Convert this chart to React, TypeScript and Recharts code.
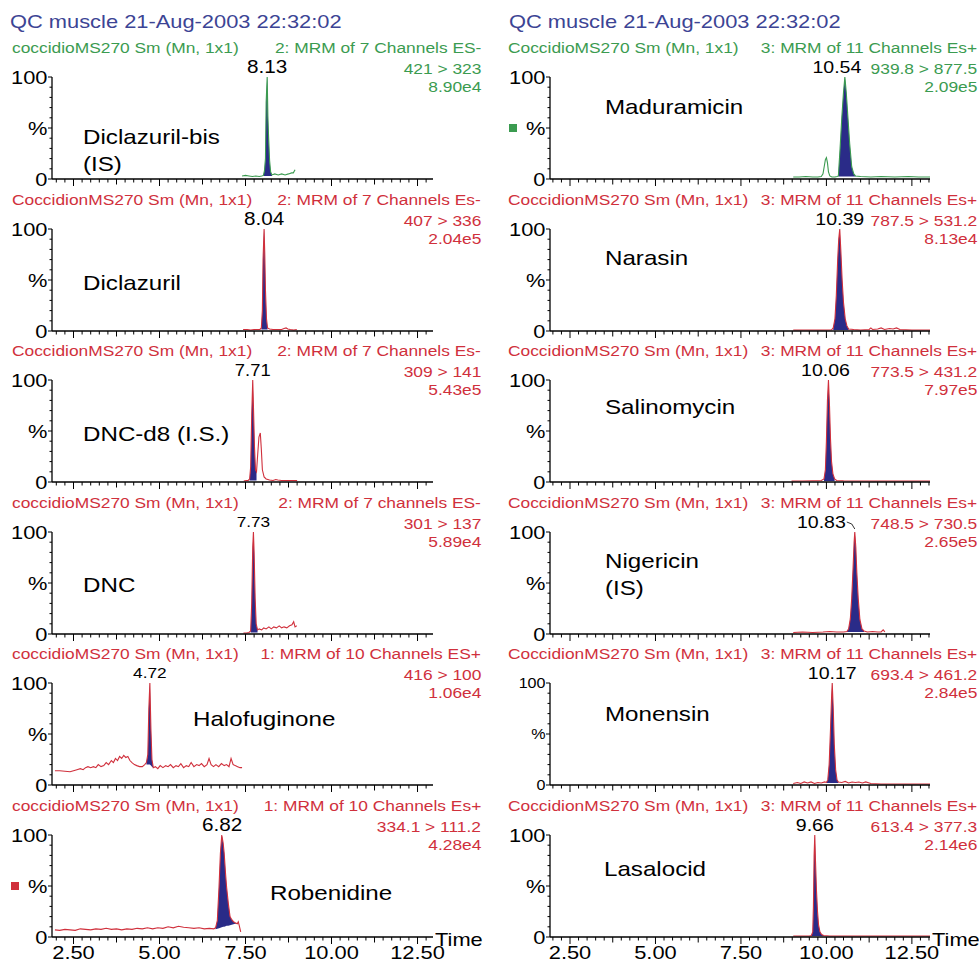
import React from "react";
import { ComposedChart, Line, Area, XAxis, YAxis, ReferenceDot } from "recharts";

const FONT = '"Liberation Sans", Arial, Helvetica, sans-serif';
const SX = 1.15; // the scan is stretched horizontally
const RED = "#d0303c";
const GREEN = "#3b9b50";
const NAVY = "#2a2b88";
const TITLE_BLUE = "#3c4494";

const runTitle = "QC muscle 21-Aug-2003 22:32:02";

const xLabelTicks = [2.5, 5, 7.5, 10, 12.5];
const xTicks = [
  2, 2.25, 2.5, 2.75, 3, 3.25, 3.5, 3.75, 4, 4.25, 4.5, 4.75, 5, 5.25, 5.5, 5.75,
  6, 6.25, 6.5, 6.75, 7, 7.25, 7.5, 7.75, 8, 8.25, 8.5, 8.75, 9, 9.25, 9.5, 9.75,
  10, 10.25, 10.5, 10.75, 11, 11.25, 11.5, 11.75, 12, 12.25, 12.5, 12.75, 13,
];
const yTicks = [0, 10, 20, 30, 40, 50, 60, 70, 80, 90, 100];

// traces: [time, %]; fills: [time, integration baseline %]
const diclazurilBisTrace = [
  [7.4, 3], [7.5, 3.5], [7.6, 3], [7.7, 2.5], [7.8, 3], [7.9, 2.5], [7.97, 3], [8.02, 3.5],
  [8.05, 8], [8.08, 20], [8.1, 75], [8.13, 100], [8.15, 62], [8.17, 42], [8.2, 18], [8.23, 7],
  [8.27, 4], [8.35, 5], [8.45, 4], [8.55, 5], [8.65, 4], [8.75, 5], [8.84, 6], [8.89, 6], [8.94, 9],
];
const diclazurilBisFill = [
  [8.02, 3], [8.05, 3], [8.08, 3], [8.1, 3], [8.13, 3], [8.15, 3], [8.17, 3], [8.2, 3], [8.23, 3], [8.27, 3],
];

const diclazurilTrace = [
  [7.43, 1.5], [7.55, 1.5], [7.65, 1], [7.75, 1.5], [7.85, 1.5], [7.92, 1.5], [7.96, 3], [7.99, 20],
  [8.01, 70], [8.04, 100], [8.06, 75], [8.08, 40], [8.11, 12], [8.14, 3], [8.2, 2], [8.3, 1.5],
  [8.45, 1.5], [8.55, 1.5], [8.62, 2.5], [8.68, 3], [8.73, 2], [8.8, 1.5], [8.9, 1], [8.99, 1.5],
];
const diclazurilFill = [
  [7.96, 1.5], [7.99, 1.5], [8.01, 1.5], [8.04, 1.5], [8.06, 1.5], [8.08, 1.5], [8.11, 1.5], [8.14, 1.5],
];

const dncD8Trace = [
  [7.45, 1], [7.52, 1.5], [7.58, 1.5], [7.62, 3], [7.65, 15], [7.68, 65], [7.71, 100], [7.73, 75],
  [7.76, 35], [7.79, 12], [7.82, 10], [7.85, 25], [7.89, 44], [7.93, 48], [7.96, 32], [7.99, 12],
  [8.04, 5], [8.1, 3], [8.2, 2], [8.3, 1.5], [8.38, 2.5], [8.44, 2], [8.55, 1.5], [8.7, 1.5],
  [8.85, 1.5], [9.0, 1.5],
];
const dncD8Fill = [
  [7.62, 1.5], [7.65, 1.5], [7.68, 1.5], [7.71, 1.5], [7.73, 1.5], [7.76, 1.5], [7.79, 1.5], [7.82, 1.5],
];

const dncTrace = [
  [7.44, 1], [7.52, 1], [7.6, 1.5], [7.65, 3], [7.68, 30], [7.71, 85], [7.73, 100], [7.75, 80],
  [7.78, 35], [7.81, 10], [7.85, 4], [7.9, 5], [7.97, 4], [8.03, 6], [8.1, 5], [8.18, 7], [8.25, 5],
  [8.32, 7], [8.4, 6], [8.48, 8], [8.55, 6], [8.62, 7], [8.7, 6], [8.78, 8], [8.85, 9], [8.9, 12],
  [8.94, 7], [8.99, 8],
];
const dncFill = [
  [7.65, 1.5], [7.68, 1.5], [7.71, 1.5], [7.73, 1.5], [7.75, 1.5], [7.78, 1.5], [7.81, 1.5], [7.85, 1.5],
];

const halofuginoneTrace = [
  [1.96, 14], [2.1, 14], [2.25, 13.5], [2.4, 13], [2.5, 14], [2.6, 15], [2.7, 16], [2.78, 15],
  [2.85, 17], [2.92, 18], [3.0, 17], [3.08, 18], [3.15, 17], [3.22, 20], [3.3, 18], [3.38, 19],
  [3.45, 22], [3.52, 20], [3.6, 24], [3.66, 22], [3.72, 26], [3.78, 24], [3.84, 28], [3.9, 26],
  [3.96, 29], [4.02, 27], [4.08, 28], [4.14, 24], [4.2, 22], [4.27, 20], [4.34, 19], [4.42, 18],
  [4.5, 18], [4.57, 20], [4.62, 22], [4.66, 30], [4.69, 75], [4.72, 100], [4.75, 55], [4.78, 25],
  [4.82, 17], [4.88, 18], [4.95, 16], [5.02, 19], [5.1, 17], [5.18, 19], [5.25, 18], [5.32, 20],
  [5.4, 17], [5.48, 19], [5.55, 18], [5.62, 21], [5.7, 17], [5.78, 19], [5.85, 18], [5.92, 22],
  [6.0, 18], [6.08, 20], [6.15, 19], [6.22, 21], [6.3, 18], [6.38, 20], [6.44, 26], [6.5, 20],
  [6.57, 18], [6.64, 20], [6.72, 18], [6.8, 21], [6.88, 19], [6.95, 20], [7.02, 18], [7.08, 26],
  [7.14, 20], [7.2, 19], [7.27, 18], [7.34, 17], [7.4, 17],
];
const halofuginoneFill = [
  [4.62, 20], [4.66, 20], [4.69, 20], [4.72, 20], [4.75, 19], [4.78, 18], [4.82, 17],
];

const robenidineTrace = [
  [1.96, 7], [2.1, 6.5], [2.25, 7.5], [2.4, 7], [2.55, 6.5], [2.7, 8], [2.85, 7.5], [3.0, 7],
  [3.15, 8], [3.3, 7.5], [3.45, 8.5], [3.6, 7.5], [3.75, 8], [3.9, 7], [4.05, 8], [4.2, 7.5],
  [4.35, 8.5], [4.5, 8], [4.65, 9], [4.8, 8], [4.95, 9], [5.1, 8.5], [5.25, 10], [5.4, 9],
  [5.55, 10.5], [5.7, 9.5], [5.85, 9], [6.0, 8.5], [6.15, 9], [6.3, 8], [6.45, 8.5], [6.58, 8],
  [6.63, 9], [6.68, 16], [6.73, 49], [6.77, 82], [6.81, 100], [6.85, 92], [6.88, 82], [6.92, 62],
  [6.95, 49], [7.0, 33], [7.05, 20], [7.1, 17], [7.15, 15], [7.2, 14], [7.26, 13], [7.29, 15],
  [7.32, 11], [7.36, 5],
];
const robenidineFill = [
  [6.63, 7.5], [6.68, 8], [6.73, 8.5], [6.77, 9], [6.81, 9.5], [6.85, 10], [6.88, 10], [6.92, 10.5],
  [6.95, 11], [7.0, 11], [7.05, 11.5], [7.1, 12], [7.15, 12.5], [7.2, 13], [7.26, 13],
];

const maduramicinTrace = [
  [9.03, 2], [9.2, 2], [9.4, 2.5], [9.6, 2], [9.75, 2], [9.85, 2.5], [9.9, 5], [9.94, 13],
  [9.97, 19], [10.0, 21], [10.03, 16], [10.06, 7], [10.1, 3], [10.16, 2], [10.25, 2], [10.31, 2.5],
  [10.35, 3], [10.4, 30], [10.45, 60], [10.5, 85], [10.54, 100], [10.58, 85], [10.63, 60],
  [10.68, 35], [10.74, 12], [10.8, 5], [10.85, 3], [11.0, 2.5], [11.3, 2], [11.6, 2.5], [12.0, 2],
  [12.4, 2.5], [12.7, 2], [13.03, 2],
];
const maduramicinFill = [
  [10.35, 2.5], [10.4, 2.5], [10.45, 2.5], [10.5, 2.5], [10.54, 2.5], [10.58, 2.5], [10.63, 2.5],
  [10.68, 2.5], [10.74, 2.5], [10.8, 2.5], [10.85, 2.5],
];

const narasinTrace = [
  [9.03, 1], [9.5, 1], [10.0, 1], [10.15, 1.2], [10.2, 3], [10.25, 12], [10.29, 35], [10.33, 70],
  [10.36, 90], [10.39, 100], [10.42, 80], [10.46, 50], [10.5, 28], [10.55, 12], [10.6, 5],
  [10.65, 2], [10.8, 1.5], [11.0, 1], [11.25, 1.5], [11.3, 3], [11.35, 1.5], [11.5, 2], [11.6, 3],
  [11.7, 1.5], [11.85, 2.5], [11.95, 2], [12.05, 3], [12.15, 1.5], [12.5, 1], [13.03, 1],
];
const narasinFill = [
  [10.2, 1], [10.25, 1], [10.29, 1], [10.33, 1], [10.36, 1], [10.39, 1], [10.42, 1], [10.46, 1],
  [10.5, 1], [10.55, 1], [10.6, 1], [10.65, 1],
];

const salinomycinTrace = [
  [8.98, 1], [9.3, 1], [9.6, 1.2], [9.85, 1.5], [9.93, 3], [9.97, 12], [10.0, 40], [10.03, 80],
  [10.06, 100], [10.09, 75], [10.12, 42], [10.15, 20], [10.19, 8], [10.24, 3], [10.3, 1.5],
  [10.5, 1.2], [11.0, 1], [11.5, 1], [12.0, 1], [12.5, 1], [13.03, 1],
];
const salinomycinFill = [
  [9.93, 1], [9.97, 1], [10.0, 1], [10.03, 1], [10.06, 1], [10.09, 1], [10.12, 1], [10.15, 1],
  [10.19, 1], [10.24, 1],
];

const nigericinTrace = [
  [9.03, 1.5], [9.3, 2], [9.6, 1.5], [9.9, 2], [10.1, 2.5], [10.3, 2], [10.5, 2], [10.6, 2.5],
  [10.65, 5], [10.7, 15], [10.74, 35], [10.78, 65], [10.81, 90], [10.83, 100], [10.86, 85],
  [10.89, 60], [10.93, 35], [10.98, 14], [11.04, 5], [11.1, 3], [11.2, 2], [11.35, 2.5], [11.5, 2],
  [11.6, 2], [11.66, 4], [11.71, 2],
];
const nigericinFill = [
  [10.6, 2], [10.65, 2], [10.7, 2], [10.74, 2], [10.78, 2], [10.81, 2], [10.83, 2], [10.86, 2],
  [10.89, 2], [10.93, 2], [10.98, 2], [11.04, 2], [11.1, 2],
];

const monensinTrace = [
  [9.03, 1.5], [9.15, 2.5], [9.25, 1.5], [9.35, 3], [9.45, 2], [9.55, 3], [9.65, 1.5], [9.75, 2.5],
  [9.85, 2], [9.95, 3], [10.0, 2.5], [10.04, 5], [10.08, 20], [10.12, 55], [10.15, 85],
  [10.17, 100], [10.2, 75], [10.23, 40], [10.27, 15], [10.31, 5], [10.35, 3], [10.45, 2.5],
  [10.55, 3.5], [10.65, 2], [10.75, 3], [10.85, 2.5], [10.95, 3], [11.05, 2], [11.15, 3],
  [11.3, 1.5], [11.6, 1], [12.0, 1], [12.5, 1], [13.03, 1],
];
const monensinFill = [
  [10.0, 2], [10.04, 2], [10.08, 2], [10.12, 2], [10.15, 2], [10.17, 2], [10.2, 2], [10.23, 2],
  [10.27, 2], [10.31, 2], [10.35, 2],
];

const lasalocidTrace = [
  [9.03, 1], [9.3, 1], [9.5, 1], [9.56, 1.5], [9.6, 5], [9.62, 30], [9.64, 80], [9.66, 100],
  [9.68, 75], [9.71, 45], [9.74, 25], [9.77, 12], [9.81, 5], [9.86, 2.5], [9.92, 1.5], [10.1, 1],
  [10.5, 1], [11.0, 1], [11.5, 1], [12.0, 1], [12.5, 1], [13.03, 1],
];
const lasalocidFill = [
  [9.56, 1], [9.6, 1], [9.62, 1], [9.64, 1], [9.66, 1], [9.68, 1], [9.71, 1], [9.74, 1], [9.77, 1],
  [9.81, 1], [9.86, 1], [9.92, 1],
];

// layout
const ROW_Y = [77, 228.5, 380, 531.5, 683, 835];
const TOP = 40;
const PLOT_H = 102;
const XH = 30;
const W = 450;
const SUB = 15.5; // subtitle font size
const SUB_SX = 1.12;
const COLS = [
  { left: 0, mLeft: 8, mRight: 17, domain: [1.875, 12.95], textL: 12, textR: 481, titleX: 10, timeX: 435 },
  { left: 490, mLeft: 16, mRight: 10, domain: [1.915, 13.03], textL: 508, textR: 977, titleX: 509, timeX: 932 },
];

const panels = [
  { col: 0, row: 0, color: GREEN, run: "coccidioMS270 Sm (Mn, 1x1)", func: "2: MRM of 7 Channels ES-", mrm: "421 > 323", inten: "8.90e4", name: ["Diclazuril-bis", "(IS)"], nameX: 83, nameDy: 59, peak: 8.13, peakText: "8.13", peakSize: 18, trace: diclazurilBisTrace, fill: diclazurilBisFill },
  { col: 0, row: 1, color: RED, run: "CoccidionMS270 Sm (Mn, 1x1)", func: "2: MRM of 7 Channels Es-", mrm: "407 > 336", inten: "2.04e5", name: ["Diclazuril"], nameX: 83, nameDy: 53.5, peak: 8.04, peakText: "8.04", peakSize: 18, trace: diclazurilTrace, fill: diclazurilFill },
  { col: 0, row: 2, color: RED, run: "CoccidionMS270 Sm (Mn, 1x1)", func: "2: MRM of 7 Channels Es-", mrm: "309 > 141", inten: "5.43e5", name: ["DNC-d8 (I.S.)"], nameX: 83, nameDy: 53, peak: 7.71, peakText: "7.71", peakSize: 16, trace: dncD8Trace, fill: dncD8Fill },
  { col: 0, row: 3, color: RED, run: "coccidioMS270 Sm (Mn, 1x1)", func: "2: MRM of 7 channels ES-", mrm: "301 > 137", inten: "5.89e4", name: ["DNC"], nameX: 83, nameDy: 52.5, peak: 7.73, peakText: "7.73", peakSize: 15, trace: dncTrace, fill: dncFill },
  { col: 0, row: 4, color: RED, run: "coccidioMS270 Sm (Mn, 1x1)", func: "1: MRM of 10 Channels ES+", mrm: "416 > 100", inten: "1.06e4", name: ["Halofuginone"], nameX: 193, nameDy: 35, peak: 4.72, peakText: "4.72", peakSize: 15, trace: halofuginoneTrace, fill: halofuginoneFill },
  { col: 0, row: 5, color: RED, run: "coccidioMS270 Sm (Mn, 1x1)", func: "1: MRM of 10 Channels Es+", mrm: "334.1 > 111.2", inten: "4.28e4", name: ["Robenidine"], nameX: 270, nameDy: 57, peak: 6.82, peakText: "6.82", peakSize: 18, marker: RED, trace: robenidineTrace, fill: robenidineFill },
  { col: 1, row: 0, color: GREEN, run: "CoccidioMS270 Sm (Mn, 1x1)", func: "3: MRM of 11 Channels Es+", mrm: "939.8 > 877.5", inten: "2.09e5", name: ["Maduramicin"], nameX: 605, nameDy: 29, peak: 10.54, peakText: "10.54", peakSize: 17, peakDx: -8, marker: GREEN, trace: maduramicinTrace, fill: maduramicinFill },
  { col: 1, row: 1, color: RED, run: "CoccidionMS270 Sm (Mn, 1x1)", func: "3: MRM of 11 Channels Es+", mrm: "787.5 > 531.2", inten: "8.13e4", name: ["Narasin"], nameX: 605, nameDy: 28.5, peak: 10.39, peakText: "10.39", peakSize: 17, trace: narasinTrace, fill: narasinFill },
  { col: 1, row: 2, color: RED, run: "CoccidionMS270 Sm (Mn, 1x1)", func: "3: MRM of 11 Channels Es+", mrm: "773.5 > 431.2", inten: "7.97e5", name: ["Salinomycin"], nameX: 605, nameDy: 26, peak: 10.06, peakText: "10.06", peakSize: 17, peakDx: -3, trace: salinomycinTrace, fill: salinomycinFill },
  { col: 1, row: 3, color: RED, run: "CoccidionMS270 Sm (Mn, 1x1)", func: "3: MRM of 11 Channels Es+", mrm: "748.5 > 730.5", inten: "2.65e5", name: ["Nigericin", "(IS)"], nameX: 605, nameDy: 28.5, peak: 10.83, peakText: "10.83", peakSize: 17, leader: true, trace: nigericinTrace, fill: nigericinFill },
  { col: 1, row: 4, color: RED, run: "CoccidionMS270 Sm (Mn, 1x1)", func: "3: MRM of 11 Channels Es+", mrm: "693.4 > 461.2", inten: "2.84e5", name: ["Monensin"], nameX: 605, nameDy: 30, peak: 10.17, peakText: "10.17", peakSize: 17, smallY: true, trace: monensinTrace, fill: monensinFill },
  { col: 1, row: 5, color: RED, run: "CoccidionMS270 Sm (Mn, 1x1)", func: "3: MRM of 11 Channels Es+", mrm: "613.4 > 377.3", inten: "2.14e6", name: ["Lasalocid"], nameX: 604, nameDy: 33, peak: 9.66, peakText: "9.66", peakSize: 17, trace: lasalocidTrace, fill: lasalocidFill },
];

function buildRows(trace: number[][], fill: number[][]) {
  const lo = new Map(fill.map(([t, b]) => [t, b]));
  return trace.map(([t, y]) => ({ t, y, band: lo.has(t) ? [lo.get(t), y] : null }));
}

function Txt({ x, cy, size, color, anchor = "start", sx = SX, children }: any) {
  const style: any = {
    position: "absolute",
    top: cy - size * 0.49,
    fontSize: size,
    lineHeight: `${size}px`,
    color,
    fontFamily: FONT,
    whiteSpace: "nowrap",
    transform: `scaleX(${sx})`,
    transformOrigin: anchor === "end" ? "right center" : "left center",
  };
  if (anchor === "end") style.right = 979 - x;
  else style.left = x;
  return <div style={style}>{children}</div>;
}

function XTick({ x, y, payload, bottom }: any) {
  const v = payload.value;
  const major = xLabelTicks.includes(v);
  const mid = !major && Math.abs(v / 1.25 - Math.round(v / 1.25)) < 1e-9;
  const len = major ? 7 : mid ? 5.5 : 3.5;
  return (
    <g>
      <line x1={x} x2={x} y1={y} y2={y + len} stroke="#000" strokeWidth={1} />
      {bottom && major && (
        <text transform={`translate(${x},${y + 22}) scale(${SX},1)`} textAnchor="middle" fontSize={19} fontFamily={FONT} fill="#000">
          {v.toFixed(2)}
        </text>
      )}
    </g>
  );
}

function YTick({ x, y, payload, cfg }: any) {
  const v = payload.value;
  const major = v % 50 === 0;
  const len = major ? 4 : 2.5;
  const label = v === 100 ? "100" : v === 50 ? "%" : v === 0 ? "0" : "";
  const fs = cfg.smallY ? 14 : 19;
  return (
    <g>
      <line x1={x - len} x2={x} y1={y} y2={y} stroke="#000" strokeWidth={1} />
      {label && (
        <text transform={`translate(${x - len - 0.5},${y + 0.358 * fs}) scale(${SX},1)`} textAnchor="end" fontSize={fs} fontFamily={FONT} fill="#000">
          {label}
        </text>
      )}
      {label === "%" && cfg.marker && <rect x={x - 41} y={y - 4} width={8} height={8} fill={cfg.marker} />}
    </g>
  );
}

function PeakTag({ viewBox, cfg }: any) {
  if (!viewBox) return null;
  const cx = viewBox.x + (viewBox.width || 0) / 2 + (cfg.peakDx || 0);
  const cy = viewBox.y + (viewBox.height || 0) / 2;
  const fs = cfg.peakSize;
  const ty = cy - 10 + 0.358 * fs;
  if (cfg.leader) {
    return (
      <g>
        <text transform={`translate(${cx - 9},${ty}) scale(${SX},1)`} textAnchor="end" fontSize={fs} fontFamily={FONT} fill="#000">
          {cfg.peakText}
        </text>
        <polyline points={`${cx - 8},${cy - 10} ${cx - 3},${cy - 8} ${cx},${cy - 3}`} fill="none" stroke="#000" strokeWidth={0.8} />
      </g>
    );
  }
  return (
    <text transform={`translate(${cx},${ty}) scale(${SX},1)`} textAnchor="middle" fontSize={fs} fontFamily={FONT} fill="#000">
      {cfg.peakText}
    </text>
  );
}

function Chrom({ cfg }: any) {
  const col = COLS[cfg.col];
  const y100 = ROW_Y[cfg.row];
  const rows = buildRows(cfg.trace, cfg.fill);
  const ticks = xTicks.filter((t) => t >= col.domain[0] && t <= col.domain[1]);
  const bottom = cfg.row === 5;
  return (
    <div style={{ position: "absolute", left: col.left, top: y100 - TOP, width: W, height: TOP + PLOT_H + XH }}>
      <ComposedChart
        width={W}
        height={TOP + PLOT_H + XH}
        data={rows}
        margin={{ top: TOP, right: col.mRight, bottom: 0, left: col.mLeft }}
      >
        <XAxis
          type="number"
          dataKey="t"
          domain={col.domain}
          allowDataOverflow
          ticks={ticks}
          interval={0}
          height={XH}
          axisLine={{ stroke: "#000", strokeWidth: 1.3 }}
          tickLine={false}
          tickSize={0}
          tickMargin={0}
          tick={(tp: any) => <XTick {...tp} bottom={bottom} />}
        />
        <YAxis
          type="number"
          domain={[0, 100]}
          ticks={yTicks}
          interval={0}
          width={44}
          axisLine={{ stroke: "#000", strokeWidth: 1.3 }}
          tickLine={false}
          tickSize={0}
          tickMargin={0}
          tick={(tp: any) => <YTick {...tp} cfg={cfg} />}
        />
        <Area type="linear" dataKey="band" stroke="none" fill={NAVY} fillOpacity={1} isAnimationActive={false} />
        <Line type="linear" dataKey="y" stroke={cfg.color} strokeWidth={1.1} dot={false} activeDot={false} isAnimationActive={false} />
        <ReferenceDot
          x={cfg.peak}
          y={100}
          r={0}
          fill="none"
          stroke="none"
          label={{ content: (lp: any) => <PeakTag viewBox={lp.viewBox} cfg={cfg} /> }}
        />
      </ComposedChart>
    </div>
  );
}

export default function App() {
  return (
    <div style={{ position: "absolute", left: 0, top: 0, width: 979, height: 965, background: "#fff", overflow: "hidden" }}>
      {COLS.map((c, i) => (
        <Txt key={"t" + i} x={c.titleX} cy={21} size={19} color={TITLE_BLUE}>
          {runTitle}
        </Txt>
      ))}
      {panels.map((p, i) => {
        const col = COLS[p.col];
        const y = ROW_Y[p.row];
        return (
          <React.Fragment key={i}>
            <Chrom cfg={p} />
            <Txt x={col.textL} cy={y - 29} size={SUB} sx={SUB_SX} color={p.color}>{p.run}</Txt>
            <Txt x={col.textR} cy={y - 29} size={SUB} sx={SUB_SX} color={p.color} anchor="end">{p.func}</Txt>
            <Txt x={col.textR} cy={y - 8} size={SUB} sx={SUB_SX} color={p.color} anchor="end">{p.mrm}</Txt>
            <Txt x={col.textR} cy={y + 10} size={SUB} sx={SUB_SX} color={p.color} anchor="end">{p.inten}</Txt>
            {p.name.map((n, j) => (
              <Txt key={j} x={p.nameX} cy={y + p.nameDy + j * 27} size={21} color="#000">{n}</Txt>
            ))}
          </React.Fragment>
        );
      })}
      {COLS.map((c, i) => (
        <Txt key={"time" + i} x={c.timeX} cy={939} size={19} color="#000">Time</Txt>
      ))}
    </div>
  );
}
